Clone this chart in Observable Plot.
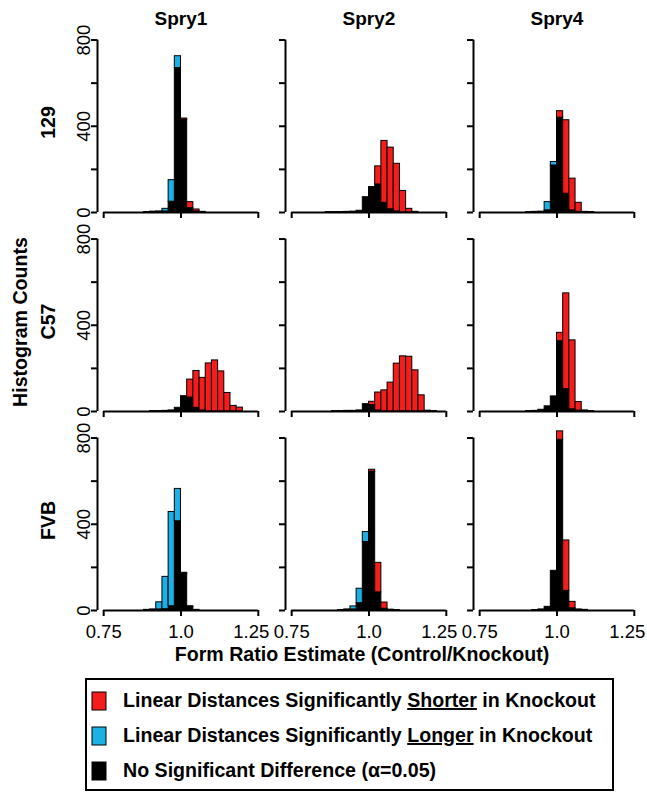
<!DOCTYPE html>
<html>
<head>
<meta charset="utf-8">
<script src="https://cdn.jsdelivr.net/npm/d3@7"></script>
<script src="https://cdn.jsdelivr.net/npm/@observablehq/plot@0.6"></script>
<style>
  body { margin: 0; background: #fff; }
  #wrap { position: relative; width: 647px; height: 792px; overflow: hidden; font-family: "Liberation Sans", Arial, sans-serif; }
  #wrap svg { display: block; }
</style>
</head>
<body>
<div id="wrap"></div>
<script>
// ---------- data ----------
const genes = ["Spry1", "Spry2", "Spry4"];
const strains = ["129", "C57", "FVB"];
const categories = ["none", "longer", "shorter"];           // stacking order, bottom to top
const categoryColors = ["#000000", "#1bb1e7", "#f51c1c"];
const legendOrder = ["shorter", "longer", "none"];
const legendPre = ["Linear Distances Significantly ", "Linear Distances Significantly ", "No Significant Difference (α=0.05)"];
const legendUnder = ["Shorter", "Longer", ""];
const legendPost = [" in Knockout", " in Knockout", ""];
const xTitle = "Form Ratio Estimate (Control/Knockout)";
const yTitle = "Histogram Counts";

const binStarts = [0.86, 0.88, 0.90, 0.92, 0.94, 0.96, 0.98, 1.00, 1.02, 1.04, 1.06, 1.08, 1.10, 1.12, 1.14, 1.16, 1.18, 1.20];
const binWidth = 0.02;
const xTicks = [0.75, 1.0, 1.25];
const xTickLabels = ["0.75", "1.0", "1.25"];
const yTicks = [0, 200, 400, 600, 800];
const yTickLabels = [0, 400, 800];

// counts per bin, aligned with binStarts
//                       0.86 .88 .90 .92 .94 .96  .98  1.00 1.02 1.04 1.06 1.08 1.10 1.12 1.14 1.16 1.18 1.20
const spry1_129_none    = [0, 2, 4, 5, 5, 50, 670, 430, 20, 5, 3, 0, 0, 0, 0, 0, 0, 0];
const spry1_129_longer  = [0, 0, 0, 0, 12, 100, 55, 0, 0, 0, 0, 0, 0, 0, 0, 0, 0, 0];
const spry1_129_shorter = [0, 0, 0, 0, 0, 0, 0, 6, 28, 9, 0, 0, 0, 0, 0, 0, 0, 0];

const spry2_129_none    = [2, 2, 2, 3, 4, 8, 71, 118, 130, 45, 15, 5, 0, 0, 0, 0, 0, 0];
const spry2_129_longer  = [0, 0, 0, 0, 0, 0, 0, 0, 0, 0, 0, 0, 0, 0, 0, 0, 0, 0];
const spry2_129_shorter = [0, 0, 0, 0, 0, 0, 0, 0, 84, 287, 286, 221, 100, 17, 3, 0, 0, 0];

const spry4_129_none    = [0, 0, 2, 3, 4, 10, 218, 440, 87, 10, 3, 3, 2, 0, 0, 0, 0, 0];
const spry4_129_longer  = [0, 0, 0, 0, 0, 38, 16, 0, 0, 0, 0, 0, 0, 0, 0, 0, 0, 0];
const spry4_129_shorter = [0, 0, 0, 0, 0, 0, 0, 30, 341, 147, 42, 0, 0, 0, 0, 0, 0, 0];

const spry1_C57_none    = [0, 0, 2, 2, 3, 5, 17, 71, 65, 17, 5, 0, 0, 0, 0, 0, 0, 0];
const spry1_C57_longer  = [0, 0, 0, 0, 0, 0, 0, 0, 0, 0, 0, 0, 0, 0, 0, 0, 0, 0];
const spry1_C57_shorter = [0, 0, 0, 0, 0, 0, 0, 0, 83, 171, 151, 223, 237, 186, 86, 26, 18, 0];

const spry2_C57_none    = [0, 2, 2, 3, 3, 5, 34, 30, 5, 0, 0, 0, 0, 0, 0, 0, 0, 0];
const spry2_C57_longer  = [0, 0, 0, 0, 0, 0, 0, 0, 0, 0, 0, 0, 0, 0, 0, 0, 0, 0];
const spry2_C57_shorter = [0, 0, 0, 0, 0, 0, 0, 15, 83, 98, 134, 222, 256, 254, 191, 75, 4, 2];

const spry4_C57_none    = [0, 0, 2, 3, 8, 24, 70, 326, 104, 10, 4, 5, 2, 0, 0, 0, 0, 0];
const spry4_C57_longer  = [0, 0, 0, 0, 0, 0, 0, 0, 0, 0, 0, 0, 0, 0, 0, 0, 0, 0];
const spry4_C57_shorter = [0, 0, 0, 0, 0, 0, 0, 39, 444, 320, 40, 0, 0, 0, 0, 0, 0, 0];

const spry1_FVB_none    = [0, 3, 5, 5, 6, 20, 414, 170, 15, 3, 0, 0, 0, 0, 0, 0, 0, 0];
const spry1_FVB_longer  = [0, 0, 0, 33, 150, 437, 150, 0, 0, 0, 0, 0, 0, 0, 0, 0, 0, 0];
const spry1_FVB_shorter = [0, 0, 0, 0, 0, 0, 0, 5, 5, 0, 0, 0, 0, 0, 0, 0, 0, 0];

const spry2_FVB_none    = [0, 0, 2, 5, 5, 34, 318, 644, 84, 8, 4, 2, 0, 0, 0, 0, 0, 0];
const spry2_FVB_longer  = [0, 0, 0, 0, 14, 67, 46, 0, 0, 0, 0, 0, 0, 0, 0, 0, 0, 0];
const spry2_FVB_shorter = [0, 0, 0, 0, 0, 0, 0, 9, 137, 29, 0, 0, 0, 0, 0, 0, 0, 0];

const spry4_FVB_none    = [0, 0, 0, 2, 5, 17, 184, 792, 91, 10, 5, 3, 0, 0, 0, 0, 0, 0];
const spry4_FVB_longer  = [0, 0, 0, 0, 0, 0, 0, 0, 0, 0, 0, 0, 0, 0, 0, 0, 0, 0];
const spry4_FVB_shorter = [0, 0, 0, 0, 0, 0, 0, 39, 234, 30, 0, 0, 0, 0, 0, 0, 0, 0];

// ---------- table for Plot ----------
const panels = [
  {gene: "Spry1", strain: "129", none: spry1_129_none, longer: spry1_129_longer, shorter: spry1_129_shorter},
  {gene: "Spry2", strain: "129", none: spry2_129_none, longer: spry2_129_longer, shorter: spry2_129_shorter},
  {gene: "Spry4", strain: "129", none: spry4_129_none, longer: spry4_129_longer, shorter: spry4_129_shorter},
  {gene: "Spry1", strain: "C57", none: spry1_C57_none, longer: spry1_C57_longer, shorter: spry1_C57_shorter},
  {gene: "Spry2", strain: "C57", none: spry2_C57_none, longer: spry2_C57_longer, shorter: spry2_C57_shorter},
  {gene: "Spry4", strain: "C57", none: spry4_C57_none, longer: spry4_C57_longer, shorter: spry4_C57_shorter},
  {gene: "Spry1", strain: "FVB", none: spry1_FVB_none, longer: spry1_FVB_longer, shorter: spry1_FVB_shorter},
  {gene: "Spry2", strain: "FVB", none: spry2_FVB_none, longer: spry2_FVB_longer, shorter: spry2_FVB_shorter},
  {gene: "Spry4", strain: "FVB", none: spry4_FVB_none, longer: spry4_FVB_longer, shorter: spry4_FVB_shorter}
];
const rows = [];
for (const cat of categories) {
  for (const p of panels) {
    p[cat].forEach((c, i) => {
      if (c > 0) rows.push({gene: p.gene, strain: p.strain, cat, x1: binStarts[i], x2: binStarts[i] + binWidth, count: c});
    });
  }
}

const xDomain = [0.73, 1.27];
const yDomain = [0, 835];
const FONT = "'Liberation Sans', Arial, sans-serif";
const fmtX = d => xTickLabels[xTicks.indexOf(d)];

const chart = Plot.plot({
  width: 647,
  height: 670,
  marginLeft: 96,
  marginRight: 5,
  marginTop: 32,
  marginBottom: 60,
  style: {fontFamily: FONT, background: "white", color: "black", overflow: "visible"},
  x: {domain: xDomain},
  y: {domain: yDomain},
  fx: {domain: genes, paddingInner: 0.111, paddingOuter: 0},
  fy: {domain: strains, paddingInner: 0.0955, paddingOuter: 0},
  color: {domain: categories, range: categoryColors},
  marks: [
    Plot.rectY(rows, {x1: "x1", x2: "x2", y: "count", fill: "cat", fx: "gene", fy: "strain", stroke: "black", strokeWidth: 1}),
    Plot.ruleY([d3.min(yTicks)], {x1: d3.min(xTicks), x2: d3.max(xTicks), strokeWidth: 2}),
    Plot.ruleX([xDomain[0]], {y1: d3.min(yTicks), y2: d3.max(yTicks), strokeWidth: 2}),
    Plot.axisX({ticks: xTicks, tickSize: 6, strokeWidth: 2, fill: "none", facetAnchor: null, label: null}),
    Plot.axisX({ticks: xTicks.slice(0, 2), tickSize: 0, tickPadding: 14, tickFormat: fmtX, fontSize: 18.5, facetAnchor: "bottom", label: null}),
    Plot.axisX({ticks: xTicks.slice(2), tickSize: 0, tickPadding: 14, dx: -7, tickFormat: fmtX, fontSize: 18.5, facetAnchor: "bottom", label: null}),
    Plot.axisY({ticks: yTicks, tickSize: 6, strokeWidth: 2, fill: "none", facetAnchor: null, label: null}),
    Plot.axisY({ticks: yTickLabels, tickSize: 0, tickPadding: 13, rotate: -90, textAnchor: "middle", fontSize: 18.5, facetAnchor: "left", label: null}),
    Plot.axisFx({anchor: "top", tickSize: 0, tickPadding: 8, fontSize: 19, fontWeight: "bold", label: null}),
    Plot.axisFy({anchor: "left", tickSize: 0, tickPadding: 49, rotate: -90, textAnchor: "middle", fontSize: 19.6, fontWeight: "bold", label: null})
  ]
});
document.getElementById("wrap").appendChild(chart);

// axis titles
const s = d3.select(chart);
s.append("text").attr("x", 362).attr("y", 661).attr("text-anchor", "middle")
  .attr("font-family", FONT).attr("font-weight", "bold").attr("font-size", 19.6).attr("fill", "black").text(xTitle);
s.append("text").attr("transform", "translate(27,322) rotate(-90)").attr("text-anchor", "middle")
  .attr("font-family", FONT).attr("font-weight", "bold").attr("font-size", 19.6).attr("fill", "black").text(yTitle);

// legend below
const colorOf = c => categoryColors[categories.indexOf(c)];
const lg = d3.select("#wrap").append("svg").attr("width", 647).attr("height", 122).style("display", "block");
lg.append("rect").attr("x", 86).attr("y", 9).attr("width", 527).attr("height", 111)
  .attr("fill", "white").attr("stroke", "black").attr("stroke-width", 2);
legendOrder.forEach((c, i) => {
  const base = 37 + i * 35;
  lg.append("rect").attr("x", 92).attr("y", base - 15).attr("width", 14).attr("height", 18)
    .attr("fill", colorOf(c)).attr("stroke", "black").attr("stroke-width", 1);
  const t = lg.append("text").attr("x", 123).attr("y", base)
    .attr("font-family", FONT).attr("font-weight", "bold").attr("font-size", 19.6).attr("fill", "black");
  t.append("tspan").text(legendPre[i]);
  if (legendUnder[i]) t.append("tspan").style("text-decoration", "underline").text(legendUnder[i]);
  if (legendPost[i]) t.append("tspan").text(legendPost[i]);
});
</script>
</body>
</html>
